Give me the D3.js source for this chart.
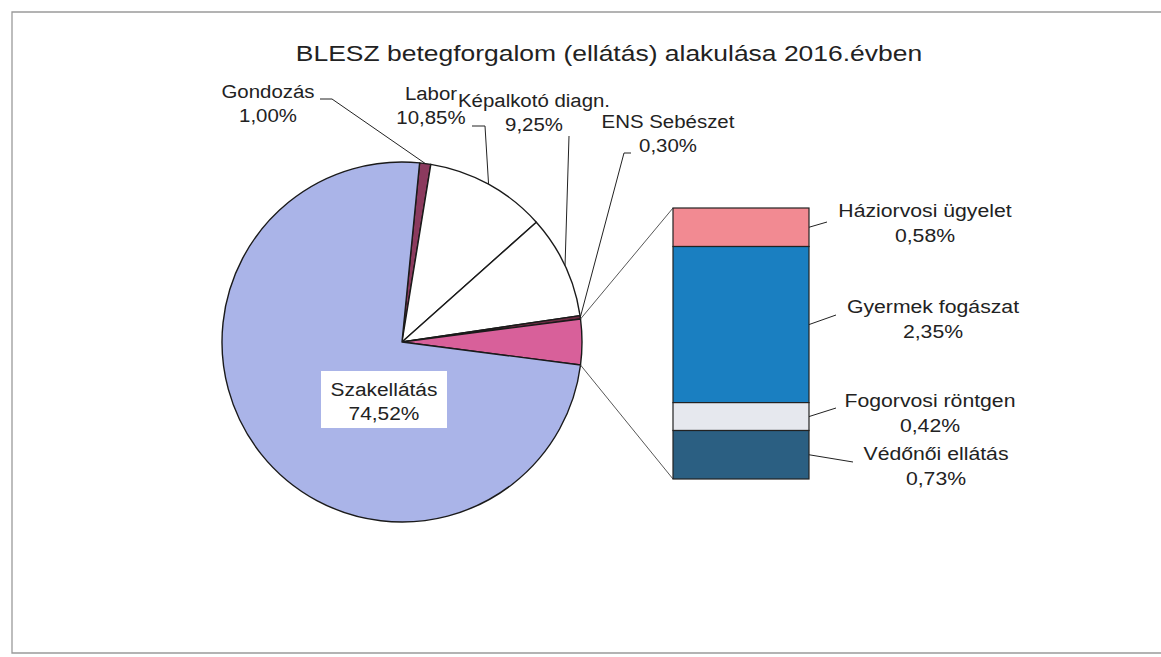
<!DOCTYPE html>
<html>
<head>
<meta charset="utf-8">
<script src="https://cdn.jsdelivr.net/npm/d3@7"></script>
<style>
  body { margin: 0; background: #fff; }
  text { font-family: "Liberation Sans", Arial, sans-serif; fill: #222; }
</style>
</head>
<body>
<div id="chart"></div>
<script>
// data
const chartTitle = "BLESZ betegforgalom (ellátás) alakulása 2016.évben";
const pieCategories = ["Szakellátás", "Gondozás", "Labor", "Képalkotó diagn.", "ENS Sebészet"];
const pieValues = [74.52, 1.00, 10.85, 9.25, 0.30];
const barCategories = ["Háziorvosi ügyelet", "Gyermek fogászat", "Fogorvosi röntgen", "Védőnői ellátás"];
const barValues = [0.58, 2.35, 0.42, 0.73];

const pieColors = {
  "Szakellátás": "#aab4e8",
  "Gondozás": "#8b3a5e",
  "Labor": "#ffffff",
  "Képalkotó diagn.": "#ffffff",
  "ENS Sebészet": "#6e2c44",
  "other": "#d8609a"
};
const barColors = ["#f28a92", "#1a7fc1", "#e6e8ee", "#2b5f82"];

const width = 1161, height = 657;
const cx = 402, cy = 342, r = 180;
const bar = { x0: 673, x1: 809, y0: 208, y1: 479 };
const STRETCH = 1.16; // the scan is a bit wider than tall

const fmt = v => d3.format(".2f")(v).replace(".", ",") + "%";

// label layout (centre x, first baseline, leader end points)
const pieLabelPos = {
  "Szakellátás": { x: 384, y: 396, box: [321, 371, 126, 57] },
  "Gondozás": { x: 268, y: 98, lead: [[332, 99], [320, 99]] },
  "Labor": { x: 431, y: 100, lead: [[485, 126], [472, 126]] },
  "Képalkotó diagn.": { x: 534, y: 107, lead: [[569, 136]] },
  "ENS Sebészet": { x: 668, y: 128, lead: [[624, 153], [631, 153]] }
};
const barLabelPos = [
  { x: 925, y: 217, lead: [827, 222] },
  { x: 933, y: 313, lead: [836, 315] },
  { x: 930, y: 407, lead: [836, 408] },
  { x: 936, y: 460, lead: [853, 462] }
];

const svg = d3.select("#chart").append("svg")
  .attr("width", width).attr("height", height);

// frame
svg.append("path")
  .attr("d", `M1170,12 H12 V653 H1170`)
  .attr("fill", "none").attr("stroke", "#9a9a9a").attr("stroke-width", 1.3);

function stretch(sel) {
  sel.each(function() {
    const len = this.getComputedTextLength();
    d3.select(this).attr("textLength", len * STRETCH).attr("lengthAdjust", "spacingAndGlyphs");
  });
}

// title
svg.append("text")
  .attr("x", 609).attr("y", 61)
  .attr("text-anchor", "middle")
  .style("font-size", "22.8px")
  .text(chartTitle)
  .call(stretch);

// pie: the "other" slice is the sum of the bar, centred at 3 o'clock
const otherTotal = d3.sum(barValues);
const pieData = [
  ...pieCategories.slice(1).map((c, i) => ({ name: c, value: pieValues[i + 1] })),
  { name: "other", value: otherTotal },
  { name: pieCategories[0], value: pieValues[0] }
];
const total = d3.sum(pieData, d => d.value);
const before = d3.sum(pieData.slice(0, 4), d => d.value);
const a0 = Math.PI / 2 - 2 * Math.PI * (before + otherTotal / 2) / total;

const pie = d3.pie().sort(null).value(d => d.value)
  .startAngle(a0).endAngle(a0 + 2 * Math.PI);
const arcs = pie(pieData);
const arc = d3.arc().innerRadius(0).outerRadius(r);
const polar = (a, rad) => [cx + rad * Math.sin(a), cy - rad * Math.cos(a)];

const g = svg.append("g").attr("transform", `translate(${cx},${cy})`);
g.selectAll("path")
  .data(arcs)
  .join("path")
  .attr("d", arc)
  .attr("fill", d => pieColors[d.data.name])
  .attr("stroke", "#1a1a1a")
  .attr("stroke-width", 1.4)
  .attr("stroke-linejoin", "round");

// bar of pie
const y = d3.scaleLinear().domain([0, otherTotal]).range([bar.y0, bar.y1]);
const stacked = barValues.map((v, i) => ({ v, i, start: d3.sum(barValues.slice(0, i)) }));

// connector lines
const other = arcs.find(d => d.data.name === "other");
const pTop = polar(other.startAngle, r), pBot = polar(other.endAngle, r);
svg.append("line")
  .attr("x1", pTop[0]).attr("y1", pTop[1]).attr("x2", bar.x0).attr("y2", y(0))
  .attr("stroke", "#444").attr("stroke-width", 0.9);
svg.append("line")
  .attr("x1", pBot[0]).attr("y1", pBot[1]).attr("x2", bar.x0).attr("y2", y(otherTotal))
  .attr("stroke", "#444").attr("stroke-width", 0.9);

svg.append("g").selectAll("rect")
  .data(stacked)
  .join("rect")
  .attr("x", bar.x0)
  .attr("width", bar.x1 - bar.x0)
  .attr("y", d => y(d.start))
  .attr("height", d => y(d.start + d.v) - y(d.start))
  .attr("fill", d => barColors[d.i])
  .attr("stroke", "#222")
  .attr("stroke-width", 1.2);

// pie labels
const line = d3.line();
arcs.filter(d => d.data.name !== "other").forEach(d => {
  const pos = pieLabelPos[d.data.name];
  if (pos.lead) {
    const mid = (d.startAngle + d.endAngle) / 2;
    svg.append("path")
      .attr("d", line([polar(mid, r), ...pos.lead]))
      .attr("fill", "none").attr("stroke", "#222").attr("stroke-width", 1);
  }
  if (pos.box) {
    svg.append("rect")
      .attr("x", pos.box[0]).attr("y", pos.box[1])
      .attr("width", pos.box[2]).attr("height", pos.box[3])
      .attr("fill", "#fff");
  }
  const size = pos.box ? "18px" : "17.6px";
  [d.data.name, fmt(d.data.value)].forEach((t, k) => {
    svg.append("text")
      .attr("x", pos.x).attr("y", pos.y + k * 24)
      .attr("text-anchor", "middle")
      .style("font-size", size)
      .text(t)
      .call(stretch);
  });
});

// bar labels
stacked.forEach(d => {
  const pos = barLabelPos[d.i];
  const ym = y(d.start + d.v / 2);
  svg.append("line")
    .attr("x1", bar.x1).attr("y1", ym).attr("x2", pos.lead[0]).attr("y2", pos.lead[1])
    .attr("stroke", "#222").attr("stroke-width", 1);
  [barCategories[d.i], fmt(d.v)].forEach((t, k) => {
    svg.append("text")
      .attr("x", pos.x).attr("y", pos.y + k * 24.5)
      .attr("text-anchor", "middle")
      .style("font-size", "18.3px")
      .text(t)
      .call(stretch);
  });
});
</script>
</body>
</html>
